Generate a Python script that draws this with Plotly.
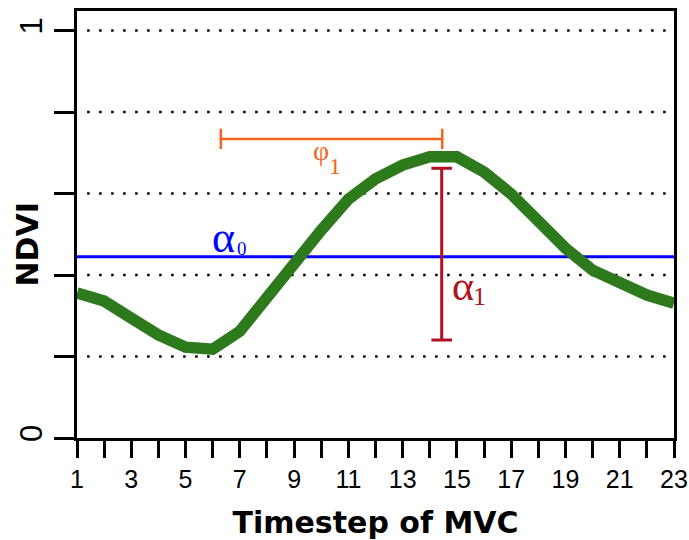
import plotly.graph_objects as go

# Timestep axis and NDVI profile over the season
timestep = list(range(1, 24))
ndvi = [0.356, 0.336, 0.294, 0.253, 0.223, 0.218, 0.262, 0.347, 0.432, 0.510,
        0.586, 0.636, 0.670, 0.690, 0.690, 0.653, 0.599, 0.528, 0.466, 0.412,
        0.378, 0.351, 0.331]

# Harmonic parameters illustrated on the curve
alpha0 = 0.445                 # mean level
alpha1_range = [0.2405, 0.662]  # amplitude bar (bottom, top)
phi1_range = [6.30, 14.46]      # phase bar (start, end)
phi1_level = 0.734

# labelled and unlabelled tick positions
x_major = [t for t in timestep if t % 2 == 1]
x_minor = [t for t in timestep if t % 2 == 0]
y_major = [0, 1]
y_minor = [0.2, 0.4, 0.6, 0.8]
y_dotted = [0.2, 0.4, 0.6, 0.8, 1.0]

GREEN = "#2C7A1C"
BLUE = "#0000FF"
ORANGE = "#F5651E"
DARKRED = "#B01020"

fig = go.Figure()

# mean level
fig.add_trace(go.Scatter(
    x=[timestep[0], timestep[-1]], y=[alpha0, alpha0], mode="lines",
    line=dict(color=BLUE, width=3), hoverinfo="skip", showlegend=False))

# NDVI curve
fig.add_trace(go.Scatter(
    x=timestep, y=ndvi, mode="lines",
    line=dict(color=GREEN, width=11.5), showlegend=False))

shapes = []
# dotted reference lines
for v in y_dotted:
    shapes.append(dict(type="line", xref="paper", yref="y", x0=0.017, x1=0.993,
                       y0=v, y1=v, layer="below",
                       line=dict(color="black", width=2.5, dash="2.5px,9.5px")))

# phase bracket (orange)
shapes.append(dict(type="line", xref="x", yref="y", x0=phi1_range[0], x1=phi1_range[1],
                   y0=phi1_level, y1=phi1_level, line=dict(color=ORANGE, width=2.5)))
for xv in phi1_range:
    shapes.append(dict(type="line", xref="x", yref="y", x0=xv, x1=xv,
                       y0=phi1_level - 0.025, y1=phi1_level + 0.025,
                       line=dict(color=ORANGE, width=2.5)))

# amplitude bracket (dark red)
amp_x = 14.44
shapes.append(dict(type="line", xref="x", yref="y", x0=amp_x, x1=amp_x,
                   y0=alpha1_range[0], y1=alpha1_range[1],
                   line=dict(color=DARKRED, width=3)))
for yv in alpha1_range:
    shapes.append(dict(type="line", xref="x", yref="y", x0=amp_x - 0.38, x1=amp_x + 0.38,
                       y0=yv, y1=yv, line=dict(color=DARKRED, width=3)))

serif = "Liberation Serif"


def symbol_with_index(x, y_sym, y_sub, sym, sub, size, subsize, color, sub_shift=0):
    # symbol ends at x, its index starts at x, slightly lower
    common = dict(xref="x", yref="y", showarrow=False, yanchor="middle", borderpad=0)
    return [
        dict(x=x, y=y_sym, text=sym, xanchor="right",
             font=dict(family=serif, size=size, color=color), **common),
        dict(x=x, y=y_sub, text=sub, xanchor="left", xshift=sub_shift,
             font=dict(family=serif, size=subsize, color=color), **common),
    ]


annotations = (
    symbol_with_index(6.86, 0.491, 0.466, "α", "0", 44, 19, BLUE)
    + symbol_with_index(15.67, 0.374, 0.348, "α", "1", 42, 26, DARKRED, sub_shift=-3)
    + symbol_with_index(10.32, 0.706, 0.668, "φ", "1", 28, 24, ORANGE, sub_shift=-2)
    + [dict(x=0, y=(438 - 244.5) / 407.5, xref="paper", yref="y",
            text="<b>NDVI</b>", showarrow=False, textangle=-90,
            xanchor="center", yanchor="middle", xshift=-49,
            font=dict(family="DejaVu Sans", size=30, color="black"))]
)

tick_style = dict(ticks="outside", tickwidth=3, tickcolor="black")

fig.update_layout(
    width=689, height=540,
    margin=dict(l=77, r=15, t=11, b=102),
    paper_bgcolor="white", plot_bgcolor="white",
    shapes=shapes, annotations=annotations,
    xaxis=dict(range=[1, 23], tickvals=x_major, ticklen=17, **tick_style,
               minor=dict(tickvals=x_minor, ticklen=17, **tick_style),
               showline=True, linecolor="black", linewidth=3, mirror=True,
               showgrid=False, zeroline=False, automargin=False,
               tickfont=dict(family="Liberation Sans", size=25, color="black"),
               title=dict(text="<b>Timestep of MVC</b>", standoff=20,
                          font=dict(family="DejaVu Sans", size=30, color="black"))),
    yaxis=dict(range=[0, 1.048], tickvals=y_major, ticklen=20, **tick_style,
               minor=dict(tickvals=y_minor, ticklen=20, **tick_style),
               tickangle=-90, automargin=False,
               showline=True, linecolor="black", linewidth=3, mirror=True,
               showgrid=False, zeroline=False,
               tickfont=dict(family="Liberation Sans", size=31, color="black")),
)

fig.write_html("out.html")
